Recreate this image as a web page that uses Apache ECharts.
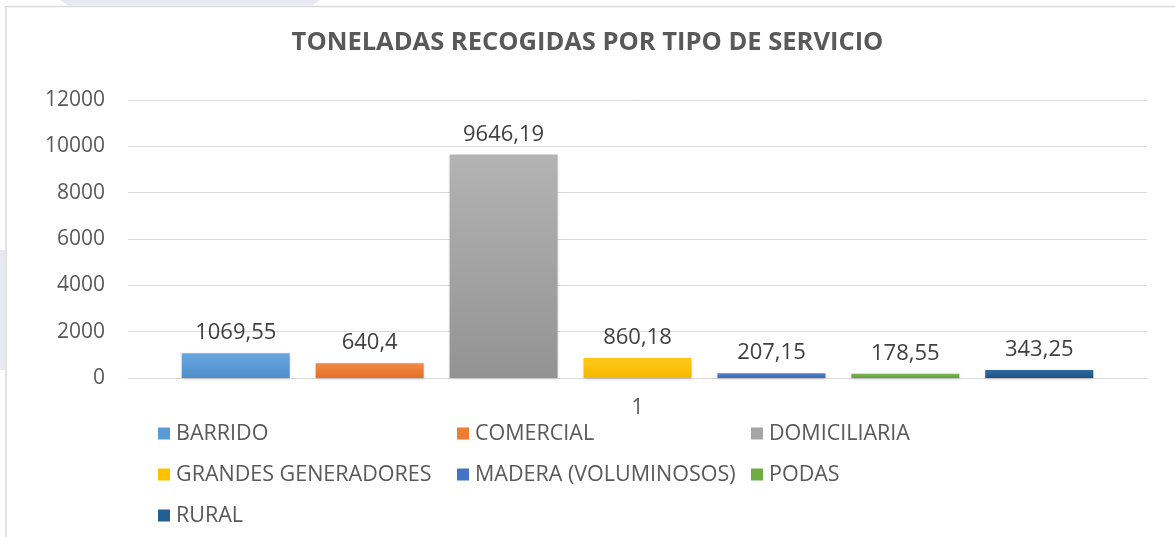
<!DOCTYPE html>
<html>
<head>
<meta charset="utf-8">
<script src="https://cdn.jsdelivr.net/npm/echarts@6/dist/echarts.min.js"></script>
<style>
    html, body { margin: 0; padding: 0; background: #fff; }
    #cn { width: 1175px; height: 537px; }
</style>
</head>
<body>
<div id="cn"></div>
<script>
'use strict';

const categories = ['1'];
const serviceNames = ['BARRIDO', 'COMERCIAL', 'DOMICILIARIA', 'GRANDES GENERADORES', 'MADERA (VOLUMINOSOS)', 'PODAS', 'RURAL'];
const tonnes = [1069.55, 640.4, 9646.19, 860.18, 207.15, 178.55, 343.25];
const yTicks = [0, 2000, 4000, 6000, 8000, 10000, 12000];

// top / bottom colours of each bar (excel gradient look)
const colorsTop = ['#69a7df', '#f08a45', '#b3b3b3', '#ffc81a', '#5580cc', '#7db756', '#2f6a9e'];
const colorsBottom = ['#4e8ecc', '#e57028', '#939393', '#f5b800', '#3d68b8', '#63a03d', '#1f5285'];
const legendColors = ['#5b9bd5', '#ed7d31', '#a5a5a5', '#ffc000', '#4472c4', '#70ad47', '#255e91'];

const FONT = 'Open Sans';
const TXT = '#595959';

const chart = echarts.init(document.getElementById('cn'));

const series = serviceNames.map((name, i) => ({
    name: name,
    type: 'bar',
    data: [tonnes[i]],
    barWidth: 108,
    barGap: '24%',
    itemStyle: {
        color: new echarts.graphic.LinearGradient(0, 0, 0, 1, [
            { offset: 0, color: colorsTop[i] },
            { offset: 1, color: colorsBottom[i] }
        ]),
        shadowColor: 'rgba(0,0,0,0.18)',
        shadowBlur: 3,
        shadowOffsetY: 1
    },
    label: {
        show: true,
        position: 'top',
        distance: 9,
        color: '#404040',
        fontFamily: FONT,
        fontSize: 22,
        formatter: p => String(p.value).replace('.', ',')
    }
}));

// legend in 3 columns like excel
const legendCol = (names, left) => ({
    orient: 'vertical',
    left: left,
    top: 421,
    icon: 'rect',
    itemWidth: 12,
    itemHeight: 12,
    itemGap: 16,
    padding: 0,
    selectedMode: false,
    data: names.map(n => ({ name: n, itemStyle: { color: legendColors[serviceNames.indexOf(n)] } })),
    textStyle: { color: TXT, fontFamily: FONT, fontSize: 21.5, lineHeight: 25, padding: [0, 0, 0, 1] }
});

const option = {
    backgroundColor: '#fff',
    animation: false,
    title: {
        text: 'TONELADAS RECOGIDAS POR TIPO DE SERVICIO',
        left: 'center',
        top: 25,
        textStyle: { color: TXT, fontFamily: FONT, fontSize: 25.5, fontWeight: 'bold' }
    },
    legend: [
        legendCol(['BARRIDO', 'GRANDES GENERADORES', 'RURAL'], 158),
        legendCol(['COMERCIAL', 'MADERA (VOLUMINOSOS)'], 457),
        legendCol(['DOMICILIARIA', 'PODAS'], 751)
    ],
    grid: { left: 128, right: 28, top: 100, bottom: 159 },
    xAxis: {
        type: 'category',
        data: categories,
        axisLine: { show: true, lineStyle: { color: '#d9d9d9', width: 1 } },
        axisTick: { show: false },
        axisLabel: { color: TXT, fontFamily: FONT, fontSize: 21, margin: 20 }
    },
    yAxis: {
        type: 'value',
        min: yTicks[0],
        max: yTicks[yTicks.length - 1],
        interval: yTicks[1] - yTicks[0],
        axisLine: { show: false },
        axisTick: { show: false },
        splitLine: { lineStyle: { color: '#d9d9d9', width: 1 } },
        axisLabel: { color: TXT, fontFamily: FONT, fontSize: 21, margin: 23, formatter: v => String(v) }
    },
    graphic: [
        // frame of the chart area
        { type: 'line', shape: { x1: 6, y1: 6.5, x2: 1175, y2: 6.5 }, style: { stroke: '#d9d9d9', lineWidth: 1.5 } },
        { type: 'line', shape: { x1: 6, y1: 6, x2: 6, y2: 537 }, style: { stroke: '#d9d9d9', lineWidth: 1.5 } },
        // lavender page background bits outside the frame
        { type: 'polygon', shape: { points: [[60, 0], [320, 0], [312, 5.5], [68, 5.5]] }, style: { fill: '#e8e8f3' } },
        { type: 'rect', shape: { x: 0, y: 250, width: 5, height: 120 }, style: { fill: '#e8e8f3' } }
    ],
    series: series
};

chart.setOption(option);
</script>
</body>
</html>
